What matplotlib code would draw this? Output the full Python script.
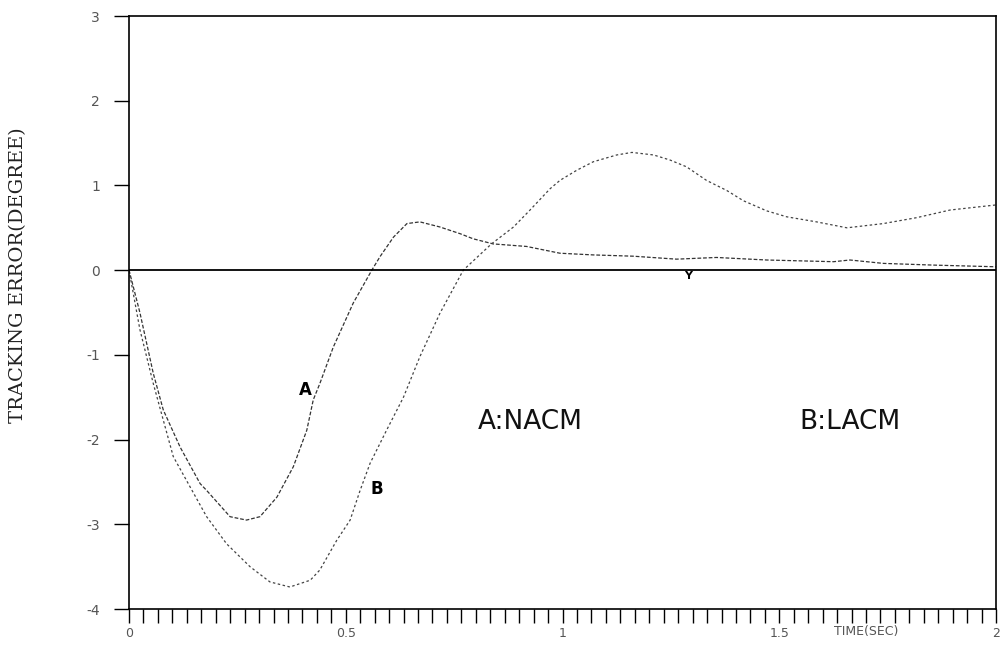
import matplotlib.pyplot as plt
import numpy as np

# curve A: NACM
t_a = [0, 0.025, 0.056, 0.079, 0.118, 0.164, 0.179, 0.233, 0.271, 0.302, 0.341,
       0.379, 0.41, 0.425, 0.44, 0.471, 0.517, 0.56, 0.579, 0.61, 0.641, 0.671,
       0.717, 0.764, 0.794, 0.84, 0.917, 0.994, 1.071, 1.163, 1.263, 1.355,
       1.471, 1.625, 1.663, 1.74, 1.855, 2.0]
err_a = [0, -0.5, -1.22, -1.65, -2.09, -2.52, -2.6, -2.91, -2.95, -2.91, -2.68,
         -2.32, -1.89, -1.53, -1.34, -0.91, -0.39, 0.0, 0.16, 0.39, 0.55, 0.57,
         0.51, 0.43, 0.37, 0.31, 0.28, 0.20, 0.18, 0.165, 0.13, 0.15,
         0.12, 0.10, 0.12, 0.08, 0.06, 0.04]

# curve B: LACM
t_b = [0, 0.025, 0.056, 0.102, 0.141, 0.179, 0.225, 0.279, 0.325, 0.371, 0.418,
       0.44, 0.479, 0.51, 0.533, 0.556, 0.594, 0.633, 0.671, 0.717, 0.771, 0.836,
       0.887, 0.925, 0.971, 0.994, 1.033, 1.071, 1.125, 1.16, 1.21, 1.248, 1.286,
       1.332, 1.379, 1.417, 1.471, 1.517, 1.586, 1.656, 1.74, 1.817, 1.894, 2.0]
err_b = [0, -0.7, -1.34, -2.2, -2.56, -2.91, -3.23, -3.50, -3.68, -3.74, -3.66,
         -3.54, -3.19, -2.95, -2.60, -2.28, -1.89, -1.50, -1.02, -0.51, 0.0, 0.31,
         0.51, 0.71, 0.96, 1.06, 1.18, 1.28, 1.36, 1.39, 1.36, 1.30, 1.22,
         1.06, 0.94, 0.82, 0.70, 0.63, 0.57, 0.50, 0.55, 0.62, 0.71, 0.77]

x_labels = ['0', '0.5', '1', '1.5', '2']
y_vals = [-4, -3, -2, -1, 0, 1, 2, 3]

fig = plt.figure(figsize=(10.05, 6.49), dpi=100)
ax = fig.add_axes([0.1284, 0.0616, 0.8627, 0.9137])

ax.plot(t_a, err_a, color='#333333', lw=0.9, ls=(0, (3, 1.5)))
ax.plot(t_b, err_b, color='#444444', lw=0.9, ls=(0, (2, 2)))
ax.axhline(0, color='black', lw=1.3)

ax.set_xlim(0, 2)
ax.set_ylim(-4, 3)

ax.set_xticks([0, 0.5, 1, 1.5, 2])
ax.set_xticklabels(x_labels, color='#555555', fontsize=9)
ax.set_xticks(np.arange(0, 61) / 30, minor=True)
ax.tick_params(axis='x', which='both', direction='out', length=10, width=1, pad=3)
ax.set_yticks(y_vals)
ax.set_yticklabels([str(v) for v in y_vals], color='#555555', fontsize=10)
ax.tick_params(axis='y', direction='out', length=11, width=1, pad=10)
for s in ax.spines.values():
    s.set_linewidth(1.2)

fig.text(0.018, 0.576, 'TRACKING ERROR(DEGREE)', family='DejaVu Serif', fontsize=14,
         rotation=90, ha='center', va='center', color='#222222')
ax.text(1.7, -4.26, 'TIME(SEC)', fontsize=9, color='#555555', ha='center', va='center')

ax.text(0.406, -1.42, 'A', fontsize=12, fontweight='bold', ha='center', va='center')
ax.text(0.572, -2.58, 'B', fontsize=12, fontweight='bold', ha='center', va='center')
ax.text(0.925, -1.79, 'A:NACM', fontsize=19, ha='center', va='center', color='#111111')
ax.text(1.663, -1.79, 'B:LACM', fontsize=19, ha='center', va='center', color='#111111')
ax.text(1.29, -0.07, 'Y', fontsize=8, fontweight='bold', ha='center', va='center')

fig.savefig('out.png', dpi=100)
